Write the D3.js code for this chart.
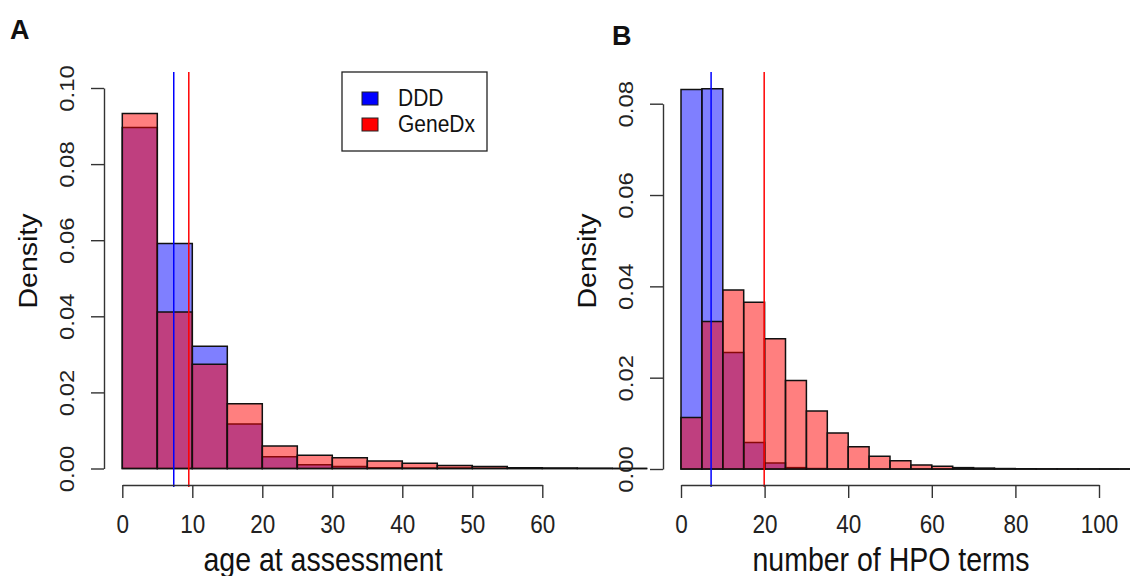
<!DOCTYPE html>
<html>
<head>
<meta charset="utf-8">
<script src="https://cdn.jsdelivr.net/npm/d3@7"></script>
<style>
  html, body { margin: 0; padding: 0; background: #fff; }
  svg { display: block; font-family: "Liberation Sans", Arial, Helvetica, sans-serif; }
  .axis path, .axis line { stroke: #333; stroke-width: 1.4; }
  .axis text { fill: #222; }
</style>
</head>
<body>
<svg id="chart" width="1130" height="576"></svg>
<script>
// ── data ───────────────────────────────────────────────────────────────────
const SERIES = ['DDD', 'GeneDx'];
const SERIES_COLOR = ['#0000ff', '#ff0000'];

// panel A: age at assessment, bins of 5 years
const ageBreaks = [0, 5, 10, 15, 20, 25, 30, 35, 40, 45, 50, 55, 60, 65, 70, 75];
const ageDDD    = [0.0896, 0.0591, 0.0321, 0.0117, 0.0031, 0.0010, 0.0005, 0.0002, 0.0001, 0.0001, 0, 0, 0, 0, 0];
const ageGeneDx = [0.0933, 0.0411, 0.0274, 0.0170, 0.0059, 0.0035, 0.0028, 0.0020, 0.0014, 0.0008, 0.0005, 0.0002, 0.0001, 0.00005, 0];
const ageMeans  = [7.35, 9.5];
const ageXTicks = [0, 10, 20, 30, 40, 50, 60];
const ageYTicks = [0, 0.02, 0.04, 0.06, 0.08, 0.10];

// panel B: number of HPO terms, bins of 5 terms
const hpoBreaks = [0, 5, 10, 15, 20, 25, 30, 35, 40, 45, 50, 55, 60, 65, 70, 75, 80, 85, 90, 95, 100, 105, 110];
const hpoDDD    = [0.0831, 0.0833, 0.0255, 0.0058, 0.0013, 0.0003, 0.0001, 0, 0, 0, 0, 0, 0, 0, 0, 0, 0, 0, 0, 0, 0, 0];
const hpoGeneDx = [0.0113, 0.0323, 0.0392, 0.0365, 0.0285, 0.0194, 0.0127, 0.0079, 0.0049, 0.0028, 0.0018, 0.0009, 0.0006, 0.0003, 0.0002, 0.0001, 0.00005, 0.00003, 0.00002, 0.00001, 0, 0];
const hpoMeans  = [7.2, 19.9];
const hpoXTicks = [0, 20, 40, 60, 80, 100];
const hpoYTicks = [0, 0.02, 0.04, 0.06, 0.08];

// ── helpers ────────────────────────────────────────────────────────────────
const svg = d3.select('#chart');
const fmtY = d3.format('.2f');
const STRETCH = 1.14;   // the source figure's text is a bit taller than wide

function barPath(x, y, x0, x1, v) {
  // closed outline so zero-height bins still show as a baseline stroke
  const p = d3.path();
  p.moveTo(x(x0), y(0)); p.lineTo(x(x0), y(v)); p.lineTo(x(x1), y(v)); p.lineTo(x(x1), y(0)); p.closePath();
  return p.toString();
}

function drawPanel(cfg) {
  const g = svg.append('g');
  const x = d3.scaleLinear().domain(cfg.xDomain).range(cfg.xRange);
  const y = d3.scaleLinear().domain(cfg.yDomain).range(cfg.yRange);

  // histograms: DDD first, GeneDx over it
  [cfg.ddd, cfg.genedx].forEach((vals, si) => {
    const bins = vals.map((v, i) => ({ x0: cfg.breaks[i], x1: cfg.breaks[i + 1], v }));
    g.append('g').selectAll('path').data(bins).join('path')
      .attr('d', d => barPath(x, y, d.x0, d.x1, d.v))
      .attr('fill', SERIES_COLOR[si]).attr('fill-opacity', 0.5)
      .attr('stroke', '#111').attr('stroke-width', 1.5);
  });

  // mean lines
  g.append('g').selectAll('line').data(cfg.means).join('line')
    .attr('x1', d => x(d)).attr('x2', d => x(d))
    .attr('y1', 72).attr('y2', 487)
    .attr('stroke', (d, i) => SERIES_COLOR[i]).attr('stroke-width', 1.5);

  // y axis
  const ya = g.append('g').attr('class', 'axis')
    .attr('transform', `translate(${cfg.yAxisX},0)`)
    .call(d3.axisLeft(y).tickValues(cfg.yTicks).tickSize(13).tickSizeOuter(0).tickFormat(fmtY));
  ya.selectAll('.tick text')
    .attr('x', null).attr('dy', null)
    .attr('transform', `translate(-30,0) rotate(-90) scale(${STRETCH},1)`)
    .attr('text-anchor', 'middle').attr('font-size', 21);

  // x axis
  const xa = g.append('g').attr('class', 'axis')
    .attr('transform', `translate(0,${cfg.xAxisY})`)
    .call(d3.axisBottom(x).tickValues(cfg.xTicks).tickSize(13).tickSizeOuter(0));
  xa.selectAll('.tick text').attr('dy', null).attr('y', null)
    .attr('transform', `translate(0,48) scale(1,${STRETCH})`).attr('font-size', 22.5);
  ya.attr('font-family', null); xa.attr('font-family', null);

  // titles
  g.append('text').attr('transform', `translate(${cfg.xTitleX},571) scale(1,${STRETCH})`)
    .attr('text-anchor', 'middle').attr('font-size', 28.5).attr('fill', '#111').text(cfg.xTitle);
  g.append('text')
    .attr('transform', `translate(${cfg.yAxisX - 67},261) rotate(-90) scale(${STRETCH},1)`)
    .attr('text-anchor', 'middle').attr('font-size', 25).attr('fill', '#111').text('Density');
  g.append('text').attr('x', cfg.labelX).attr('y', cfg.labelY)
    .attr('font-size', 27).attr('font-weight', 'bold').attr('fill', '#111').text(cfg.label);
  return { x, y, g };
}

// ── panels ─────────────────────────────────────────────────────────────────
drawPanel({
  label: 'A', labelX: 10, labelY: 39,
  breaks: ageBreaks, ddd: ageDDD, genedx: ageGeneDx, means: ageMeans,
  xDomain: [0, 60], xRange: [122.3, 542.3], yDomain: [0, 0.10], yRange: [468.5, 88],
  xTicks: ageXTicks, yTicks: ageYTicks, yAxisX: 104, xAxisY: 485,
  xTitle: 'age at assessment', xTitleX: 323,
});

drawPanel({
  label: 'B', labelX: 612, labelY: 45,
  breaks: hpoBreaks, ddd: hpoDDD, genedx: hpoGeneDx, means: hpoMeans,
  xDomain: [0, 100], xRange: [681, 1099], yDomain: [0, 0.08], yRange: [469, 103.7],
  xTicks: hpoXTicks, yTicks: hpoYTicks, yAxisX: 663, xAxisY: 485,
  xTitle: 'number of HPO terms', xTitleX: 891,
});

// ── legend ─────────────────────────────────────────────────────────────────
const leg = svg.append('g').attr('transform', 'translate(342,72)');
leg.append('rect').attr('width', 145).attr('height', 79)
  .attr('fill', '#fff').attr('stroke', '#222').attr('stroke-width', 1.3);
const items = leg.selectAll('g.item').data(SERIES).join('g')
  .attr('class', 'item').attr('transform', (d, i) => `translate(20,${20 + i * 26})`);
items.append('rect').attr('width', 16).attr('height', 13)
  .attr('fill', (d, i) => SERIES_COLOR[i]).attr('stroke', '#222').attr('stroke-width', 1);
items.append('text').attr('transform', `translate(36,14) scale(1,${STRETCH})`)
  .attr('font-size', 21).attr('fill', '#111').text(d => d);
</script>
</body>
</html>
